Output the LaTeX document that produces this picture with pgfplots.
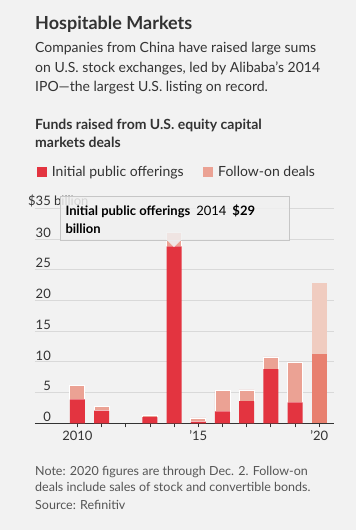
\documentclass[border=0pt]{standalone}
\usepackage{pgfplots}
\pgfplotsset{compat=1.18}
\usepackage{pgfplotstable}
\usepackage{fontspec}
\setmainfont{Lato}
\definecolor{bg}{HTML}{F2F2F2}
\definecolor{txt}{HTML}{333333}
\definecolor{note}{HTML}{555555}
\definecolor{ipo}{HTML}{E33440}
\definecolor{fol}{HTML}{EBA294}
\definecolor{ipoB}{HTML}{E8806F}
\definecolor{folB}{HTML}{F0CCC0}
\definecolor{grid}{HTML}{D9D9D9}
% year, IPO, follow-on (2020 split into its own columns)
\pgfplotstableread{
year ipo ipoB fol folB
2010 3.9  0     2.2  0
2011 2.05 0     0.75 0
2013 1.0  0     0.35 0
2014 28.8 0     2.3  0
2015 0.27 0     0.6  0
2016 1.96 0     3.34 0
2017 3.6  0     1.83 0
2018 8.8  0     2.0  0
2019 3.4  0     6.6  0
2020 0    11.25 0    11.65
}\data
\begin{document}
\begin{tikzpicture}
\fill[bg] (0,0) rectangle (356pt,-530pt);
\node[anchor=base west, inner sep=0, text=txt, font=\bfseries\fontsize{18}{20}\selectfont] at (35pt,-29.5pt) {Hospitable Markets};
\begin{scope}[every node/.style={anchor=base west, inner sep=0, text=txt, font=\fontsize{14}{18}\selectfont}]
\node at (35pt,-52pt) {Companies from China have raised large sums};
\node at (35pt,-72pt) {on U.S. stock exchanges, led by Alibaba’s 2014};
\node at (35pt,-91.5pt) {IPO—the largest U.S. listing on record.};
\end{scope}
\begin{scope}[every node/.style={anchor=base west, inner sep=0, text=txt, font=\bfseries\fontsize{14}{18}\selectfont}]
\node at (35pt,-129pt) {Funds raised from U.S. equity capital};
\node at (35pt,-147.3pt) {markets deals};
\end{scope}
\fill[ipo] (36.7pt,-166.7pt) rectangle (46.7pt,-176.7pt);
\node[anchor=base west, inner sep=0, text=txt, font=\fontsize{14}{18}\selectfont] at (51.7pt,-176.7pt) {Initial public offerings};
\fill[fol] (203pt,-166.7pt) rectangle (213pt,-176.7pt);
\node[anchor=base west, inner sep=0, text=txt, font=\fontsize{14}{18}\selectfont] at (218pt,-176.7pt) {Follow-on deals};
\begin{scope}[every node/.style={anchor=base west, inner sep=0, text=note, font=\fontsize{12.5}{16}\selectfont}]
\node at (35pt,-475pt) {Note: 2020 figures are through Dec. 2. Follow-on};
\node at (35pt,-491.7pt) {deals include sales of stock and convertible bonds.};
\node at (35pt,-509pt) {Source: Refinitiv};
\end{scope}
\begin{axis}[
  at={(35pt,-423.3pt)}, anchor=south west,
  scale only axis, width=299pt, height=215pt,
  xmin=2008.25, xmax=2020.61, ymin=0, ymax=35,
  ybar stacked, bar width=15pt,
  axis x line*=bottom, axis y line*=left,
  y axis line style={draw=none},
  x axis line style={draw=txt, line width=0.9pt},
  xtick={2010,...,2020},
  xticklabels={2010,,,,,'15,,,,,'20},
  xtick style={draw=txt, line width=0.7pt},
  tick align=outside, major tick length=4pt,
  xticklabel style={text=txt, font=\fontsize{13}{15}\selectfont},
  ytick={0,5,...,35},
  yticklabels={0,5,10,15,20,25,30,{\$35\rlap{ billion}}},
  ytick style={draw=none},
  yticklabel style={anchor=south east, inner sep=0pt, xshift=20pt, yshift=1.5pt, text=txt, font=\fontsize{13}{15}\selectfont},
  ymajorgrids, major grid style={draw=grid, line width=0.8pt},
  /pgf/number format/assume math mode=true,
  axis background/.style={fill=none},
]
\addplot[fill=ipo, draw=none] table[x=year, y=ipo] {\data};
\addplot[fill=ipoB, draw=none] table[x=year, y=ipoB] {\data};
\addplot[fill=fol, draw=white, line width=0.7pt] table[x=year, y=fol] {\data};
\addplot[fill=folB, draw=none] table[x=year, y=folB] {\data};
\end{axis}
% tooltip
\fill[fill=white!88!gray, fill opacity=0.85] (60pt,-196pt) rectangle (289pt,-240pt);
\draw[draw=gray!45, line width=0.7pt] (60pt,-196pt) rectangle (289pt,-240pt);
\fill[white!88!gray, opacity=0.9] (167pt,-240pt) -- (181pt,-240pt) -- (174pt,-247pt) -- cycle;
\node[anchor=base west, inner sep=0, text=black, font=\fontsize{13}{16}\selectfont] at (65.3pt,-215.5pt) {\textbf{Initial public offerings}\hspace{6pt}2014\hspace{6pt}\textbf{\$29}};
\node[anchor=base west, inner sep=0, text=black, font=\bfseries\fontsize{13}{16}\selectfont] at (65.3pt,-233.5pt) {billion};
\end{tikzpicture}
\end{document}
